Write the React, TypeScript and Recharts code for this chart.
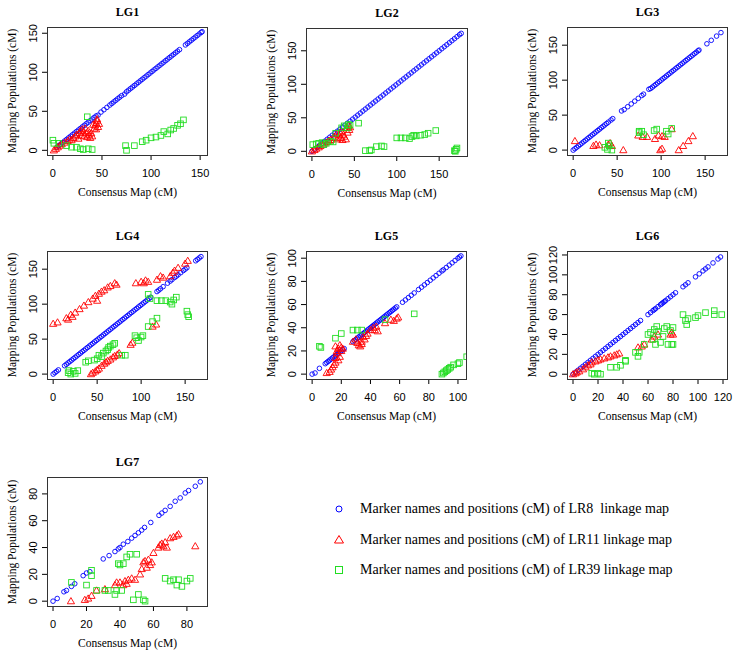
import React from "react";
import { ScatterChart, Scatter, XAxis, YAxis } from "recharts";

type Pt = [number, number];

// LG1
const lg1Blue: Pt[] = [
  [4, 4], [6, 6], [8, 8], [10, 10], [12, 12], [14, 14], [16, 16], [18, 18], [20, 20], [22, 22],
  [24, 24], [26, 26], [28, 28], [30, 30], [32, 32], [34, 34], [36, 36], [38, 38], [40, 40], [42, 42],
  [44, 44], [46, 45], [49, 49], [52, 52], [55, 55], [58, 58], [60, 60], [62, 62], [64, 64], [66, 66],
  [68, 68], [70, 70], [73, 72], [75, 75], [77, 77], [79, 79], [81, 81], [83, 83], [85, 85], [87, 87],
  [89, 89], [91, 91], [93, 93], [95, 95], [97, 97], [99, 99], [101, 101], [103, 103], [105, 105], [107, 107],
  [109, 109], [111, 111], [113, 113], [115, 115], [117, 117], [119, 119], [121, 121], [123, 123], [125, 125], [127, 127],
  [129, 129], [135, 135], [137, 137], [139, 139], [141, 141], [143, 143], [145, 145], [147, 147], [149, 149], [151, 151], [152, 152],
];
const lg1Red: Pt[] = [
  [1, 0], [3, 2], [5, 4], [7, 6], [9, 8], [12, 10], [15, 12], [17, 14], [19, 13], [21, 16],
  [23, 18], [24, 20], [26, 15], [27, 22], [28, 25], [29, 19], [30, 27], [31, 23], [32, 18], [33, 28],
  [34, 22], [35, 17], [36, 25], [37, 20], [38, 16], [39, 22], [40, 18], [42, 28], [43, 32], [44, 35],
  [45, 38], [46, 30], [47, 34], [45, 40], [44, 27], [41, 33],
];
const lg1Green: Pt[] = [
  [0, 13], [1, 9], [6, 9], [14, 6], [19, 4], [24, 4], [28, 2], [31, 1], [35, 43], [36, 2],
  [40, 1], [74, 6], [75, 0], [83, 6], [91, 11], [95, 13], [100, 16], [105, 17], [110, 19], [113, 24],
  [117, 21], [120, 26], [123, 28], [127, 32], [130, 34], [133, 39],
];

// LG2
const lg2Blue: Pt[] = [
  [0, 0], [3, 3], [6, 6], [9, 9], [12, 12], [15, 15], [18, 18], [21, 21], [24, 24], [27, 27],
  [30, 30], [33, 33], [36, 36], [39, 39], [42, 42], [45, 45], [48, 48], [51, 51], [54, 54], [57, 57],
  [60, 60], [63, 63], [66, 66], [69, 69], [72, 72], [75, 75], [78, 78], [81, 81], [84, 84], [87, 87],
  [90, 90], [93, 93], [96, 96], [99, 99], [102, 102], [105, 105], [108, 108], [111, 111], [114, 114], [117, 117],
  [120, 120], [123, 123], [126, 126], [129, 129], [132, 132], [135, 135], [138, 138], [141, 141], [144, 144], [147, 147],
  [150, 150], [153, 153], [156, 156], [159, 159], [162, 162], [165, 165], [168, 168], [171, 171], [174, 174], [176, 176],
];
const lg2Red: Pt[] = [
  [0, 0], [3, 2], [5, 4], [8, 6], [10, 8], [13, 10], [15, 12], [18, 14], [20, 16], [22, 17],
  [25, 20], [27, 22], [29, 26], [30, 18], [32, 24], [33, 28], [34, 20], [35, 30], [36, 17], [37, 25],
  [38, 22], [40, 18], [41, 35], [42, 28], [43, 38], [44, 32], [45, 36],
];
const lg2Green: Pt[] = [
  [1, 10], [5, 11], [8, 12], [12, 13], [14, 10], [17, 12], [22, 15], [25, 14], [28, 27], [35, 35],
  [38, 38], [42, 35], [43, 40], [45, 39], [55, 42], [63, 1], [68, 1], [70, 2], [76, 7], [82, 8],
  [85, 7], [100, 20], [105, 20], [110, 20], [115, 19], [118, 22], [120, 24], [123, 23], [128, 24], [133, 25],
  [137, 27], [146, 31], [168, 1], [170, 3], [171, 5], [169, 0],
];

// LG3
const lg3Blue: Pt[] = [
  [0, 0], [2, 2], [4, 4], [6, 6], [8, 8], [10, 10], [12, 12], [14, 14], [16, 16], [18, 18],
  [20, 20], [22, 22], [24, 24], [26, 26], [28, 28], [30, 30], [32, 32], [34, 34], [36, 36], [38, 38],
  [40, 40], [43, 43], [45, 45], [55, 56], [58, 58], [62, 62], [66, 66], [70, 70], [74, 74], [78, 78],
  [80, 80], [86, 87], [88, 88], [90, 90], [92, 92], [94, 94], [96, 96], [98, 98], [100, 100], [102, 102],
  [104, 104], [106, 106], [108, 108], [110, 110], [112, 112], [114, 114], [116, 116], [118, 118], [120, 120], [122, 122],
  [124, 124], [126, 126], [128, 128], [130, 130], [132, 132], [134, 134], [136, 136], [138, 138], [140, 140], [142, 142],
  [143, 143], [152, 152], [157, 157], [163, 163], [168, 168],
];
const lg3Red: Pt[] = [
  [2, 13], [23, 6], [26, 8], [30, 7], [40, 8], [42, 10], [44, 6], [57, 0], [74, 21], [79, 19],
  [84, 19], [93, 16], [97, 21], [101, 20], [104, 19], [99, 0], [101, 2], [112, 30], [120, 0], [125, 6],
  [131, 13], [136, 20],
];
const lg3Green: Pt[] = [
  [36, 4], [39, 1], [40, 10], [44, 0], [41, 6], [75, 25], [78, 27], [92, 28], [95, 30], [106, 27],
  [108, 23], [112, 31], [75, 27], [80, 22],
];

// LG4
const lg4Blue: Pt[] = [
  [0, 0], [2, 2], [4, 4], [6, 6], [13, 12], [15, 14], [17, 16], [19, 18], [21, 20], [23, 22],
  [25, 24], [27, 26], [29, 28], [31, 30], [33, 32], [35, 34], [37, 36], [39, 38], [41, 40], [43, 42],
  [45, 44], [47, 46], [49, 48], [51, 50], [53, 52], [55, 54], [57, 56], [59, 58], [61, 60], [63, 62],
  [65, 64], [67, 66], [69, 68], [71, 70], [73, 72], [75, 74], [77, 76], [79, 78], [81, 80], [83, 82],
  [85, 84], [87, 86], [89, 88], [91, 90], [93, 92], [95, 94], [97, 96], [99, 98], [101, 100], [103, 102],
  [105, 104], [107, 106], [109, 108], [111, 110], [118, 118], [120, 120], [122, 122], [125, 125], [130, 130], [133, 133],
  [135, 135], [138, 138], [140, 140], [142, 142], [145, 145], [148, 148], [150, 150], [152, 152], [162, 162], [164, 164],
  [166, 166], [168, 168],
];
const lg4Red: Pt[] = [
  [0, 72], [5, 74], [15, 80], [17, 78], [20, 85], [22, 82], [25, 88], [30, 93], [35, 98], [40, 103],
  [45, 108], [48, 112], [50, 105], [52, 115], [55, 118], [58, 120], [62, 124], [65, 126], [70, 130], [72, 128],
  [94, 130], [100, 132], [103, 130], [105, 134], [108, 132], [118, 135], [122, 140], [125, 138], [133, 140], [136, 145],
  [138, 148], [142, 152], [150, 158], [153, 162],
  [43, 0], [45, 2], [48, 4], [50, 6], [52, 8], [55, 12], [58, 15], [60, 17], [62, 19], [65, 21],
  [68, 24], [70, 26], [73, 28], [75, 30], [88, 42], [90, 45], [113, 68], [117, 71],
];
const lg4Green: Pt[] = [
  [17, 2], [18, 5], [20, 0], [23, 4], [25, 1], [28, 5], [37, 17], [40, 19], [47, 20], [50, 22],
  [52, 27], [55, 25], [57, 30], [60, 33], [62, 35], [63, 38], [65, 40], [68, 42], [70, 44], [78, 27],
  [82, 27], [93, 55], [95, 52], [97, 48], [100, 53], [102, 55], [108, 68], [113, 75], [118, 80], [108, 114],
  [110, 108], [118, 105], [123, 105], [128, 105], [133, 103], [135, 100], [137, 106], [140, 110], [152, 90], [153, 85],
  [154, 82],
];

// LG5
const lg5Blue: Pt[] = [
  [0, 0], [2, 1], [5, 5], [9, 9], [10, 10], [11, 11], [12, 12], [13, 13], [14, 14], [15, 15],
  [16, 16], [17, 17], [18, 18], [19, 19], [20, 20], [21, 21], [22, 22], [28, 28], [29, 29], [30, 30],
  [31, 31], [32, 32], [33, 33], [34, 34], [35, 35], [36, 36], [37, 37], [38, 38], [39, 39], [40, 40],
  [41, 41], [42, 42], [43, 43], [44, 44], [45, 45], [46, 46], [47, 47], [48, 48], [49, 49], [50, 50],
  [51, 51], [52, 52], [53, 53], [54, 54], [55, 55], [56, 56], [57, 57], [58, 58], [62, 62], [64, 64],
  [66, 66], [68, 68], [70, 70], [73, 73], [75, 75], [77, 77], [79, 79], [81, 81], [83, 83], [85, 85],
  [87, 87], [89, 89], [90, 90], [92, 92], [94, 94], [96, 96], [98, 98], [100, 100], [101, 101], [102, 102],
];
const lg5Red: Pt[] = [
  [10, 1], [12, 2], [13, 4], [14, 6], [15, 8], [16, 10], [16, 14], [17, 18], [17, 20], [18, 22],
  [16, 24], [19, 25], [20, 20], [20, 23], [21, 22], [18, 12], [19, 15], [28, 28], [30, 30], [31, 27],
  [32, 25], [33, 24], [34, 28], [35, 32], [36, 30], [37, 33], [34, 26], [38, 35], [40, 38], [42, 40],
  [43, 38], [45, 37], [44, 41], [50, 44], [54, 47], [56, 46], [58, 48], [59, 49],
];
const lg5Green: Pt[] = [
  [5, 24], [6, 23], [16, 31], [20, 35], [28, 38], [31, 38], [34, 38], [50, 47], [70, 52], [89, 0],
  [90, 1], [91, 2], [92, 3], [93, 4], [94, 5], [95, 6], [97, 8], [100, 9], [101, 10], [106, 15],
];

// LG6
const lg6Blue: Pt[] = [
  [0, 0], [2, 2], [4, 4], [6, 6], [8, 8], [10, 10], [12, 12], [14, 14], [16, 16], [18, 18],
  [20, 20], [22, 22], [24, 24], [26, 26], [28, 28], [30, 30], [32, 32], [34, 34], [36, 36], [38, 38],
  [40, 40], [42, 42], [44, 44], [46, 46], [48, 48], [50, 50], [52, 52], [54, 54], [60, 60], [62, 62],
  [64, 64], [65, 65], [66, 66], [68, 68], [70, 70], [71, 71], [72, 72], [73, 73], [74, 74], [76, 76],
  [78, 78], [80, 80], [82, 82], [88, 88], [90, 90], [92, 92], [98, 98], [101, 101], [104, 104], [106, 106],
  [108, 108], [112, 112], [116, 116], [118, 118],
];
const lg6Red: Pt[] = [
  [0, 0], [2, 1], [3, 2], [5, 3], [8, 5], [10, 7], [12, 9], [14, 10], [15, 12], [18, 13],
  [20, 14], [22, 15], [25, 16], [28, 17], [30, 18], [33, 19], [35, 20], [37, 21], [52, 27], [55, 28],
  [57, 30], [63, 35], [65, 38], [68, 40], [78, 40], [80, 40], [79, 42],
];
const lg6Green: Pt[] = [
  [15, 1], [17, 0], [20, 1], [22, 0], [30, 7], [35, 7], [38, 9], [42, 14], [42, 13], [50, 22],
  [52, 18], [53, 22], [57, 30], [60, 40], [62, 42], [64, 35], [65, 45], [66, 30], [67, 48], [68, 43],
  [70, 32], [72, 38], [73, 46], [75, 48], [76, 30], [78, 44], [79, 30], [80, 47], [80, 30], [88, 60],
  [90, 54], [91, 50], [92, 56], [98, 57], [100, 59], [106, 62], [113, 64], [113, 60], [119, 60],
];

// LG7
const lg7Blue: Pt[] = [
  [0, 0], [2.5, 2], [6.5, 7], [8, 8], [11, 11], [13, 13], [18, 19], [20, 21], [22, 22], [30, 31.5],
  [33.5, 34], [37, 37], [39, 39], [40, 40], [42, 42.5], [44.7, 44.5], [47, 47], [49, 49], [51, 51], [53, 53],
  [54.7, 55], [58.4, 58.7], [63.3, 64], [65, 65.7], [67, 67.7], [70, 70.7], [73, 74.5], [76, 77], [79, 80.7], [81, 82.5],
  [85, 85.7], [88, 89],
];
const lg7Red: Pt[] = [
  [10.7, 0], [19, 1], [21, 2], [23, 4], [26, 8], [31, 9], [37, 12], [38, 14], [40, 14], [42, 12],
  [43, 15], [44, 13], [45, 16], [47, 17], [49, 16], [52, 20], [53, 24], [54, 29], [55, 30], [56, 25],
  [57, 31], [58, 27], [59, 29], [60, 36], [63, 40], [64, 42], [65, 43], [66, 41], [67, 44], [68, 40],
  [70, 47], [72, 48], [74, 49], [75, 50], [85, 41],
];
const lg7Green: Pt[] = [
  [11, 14], [20, 12], [23, 19], [23, 23], [26, 8], [31, 8], [33, 8], [37, 5], [38, 8], [39, 28],
  [40, 27], [41, 8], [42, 28], [44, 33], [46, 35], [48, 1], [50, 35], [51, 5], [54, 1], [55, 0],
  [67, 17], [70, 15], [72, 16], [74, 12], [75, 16], [77, 11], [80, 15], [82, 17],
];

const legendLabels = [
  "Marker names and positions (cM) of LR8  linkage map",
  "Marker names and positions (cM) of LR11 linkage map",
  "Marker names and positions (cM) of LR39 linkage map",
];

const BLUE = "#0000ff";
const RED = "#ff0000";
const GREEN = "#22dd22";
const SERIF = '"Liberation Serif", "Times New Roman", serif';
const SANS = '"Liberation Sans", Arial, sans-serif';

const toObj = (pts: Pt[]) => pts.map(([x, y]) => ({ x, y }));

const panels = [
  { title: "LG1", box: [47, 27, 208, 155], domain: [-6, 158], ticks: [0, 50, 100, 150], blue: lg1Blue, red: lg1Red, green: lg1Green },
  { title: "LG2", box: [306, 28, 468, 156], domain: [-7, 184], ticks: [0, 50, 100, 150], blue: lg2Blue, red: lg2Red, green: lg2Green },
  { title: "LG3", box: [567, 27, 728, 155], domain: [-7, 176], ticks: [0, 50, 100, 150], blue: lg3Blue, red: lg3Red, green: lg3Green },
  { title: "LG4", box: [47, 251, 208, 379], domain: [-7, 176], ticks: [0, 50, 100, 150], blue: lg4Blue, red: lg4Red, green: lg4Green },
  { title: "LG5", box: [306, 251, 467, 379], domain: [-4.2, 106.2], ticks: [0, 20, 40, 60, 80, 100], blue: lg5Blue, red: lg5Red, green: lg5Green },
  { title: "LG6", box: [567, 251, 728, 379], domain: [-4.8, 124], ticks: [0, 20, 40, 60, 80, 100, 120], blue: lg6Blue, red: lg6Red, green: lg6Green },
  { title: "LG7", box: [47, 477, 208, 606], domain: [-3.6, 92.6], ticks: [0, 20, 40, 60, 80], blue: lg7Blue, red: lg7Red, green: lg7Green },
];

const Circle = (p: any) => (
  <circle cx={p.cx} cy={p.cy} r={2.3} fill="none" stroke={BLUE} strokeWidth={0.9} />
);
const Triangle = (p: any) => (
  <polygon
    points={`${p.cx},${p.cy - 3.6} ${p.cx - 3.6},${p.cy + 2.6} ${p.cx + 3.6},${p.cy + 2.6}`}
    fill="none"
    stroke={RED}
    strokeWidth={0.9}
  />
);
const Square = (p: any) => (
  <rect x={p.cx - 2.8} y={p.cy - 2.8} width={5.6} height={5.6} fill="none" stroke={GREEN} strokeWidth={0.9} />
);

function Panel({ cfg }: { cfg: (typeof panels)[number] }) {
  const [l, t, r, b] = cfg.box;
  const w = r - l;
  const h = b - t;
  return (
    <>
      <div style={{ position: "absolute", left: l - 50, top: t - 5 }}>
        <ScatterChart width={w + 60} height={h + 55} margin={{ top: 5, right: 10, bottom: 0, left: 0 }}>
          <XAxis
            type="number"
            dataKey="x"
            domain={cfg.domain}
            ticks={cfg.ticks}
            interval={0}
            allowDataOverflow
            height={50}
            axisLine={false}
            tickSize={5}
            tickMargin={9}
            tickLine={{ stroke: "#000" }}
            tick={{ fontSize: 11, fill: "#000", fontFamily: SANS }}
          />
          {/* R draws y tick labels parallel to the axis */}
          <YAxis
            type="number"
            dataKey="y"
            domain={cfg.domain}
            ticks={cfg.ticks}
            interval={0}
            allowDataOverflow
            width={50}
            axisLine={false}
            tickSize={5}
            tickMargin={9}
            tickLine={{ stroke: "#000" }}
            angle={-90}
            tick={{ fontSize: 11, fill: "#000", fontFamily: SANS, angle: -90, textAnchor: "middle", verticalAnchor: "middle" }}
          />
          <Scatter data={toObj(cfg.blue)} shape={Circle} isAnimationActive={false} />
          <Scatter data={toObj(cfg.red)} shape={Triangle} isAnimationActive={false} />
          <Scatter data={toObj(cfg.green)} shape={Square} isAnimationActive={false} />
        </ScatterChart>
      </div>
      <div
        style={{
          position: "absolute",
          left: l,
          top: t,
          width: w,
          height: h + 1,
          border: "1px solid #333",
          boxSizing: "border-box",
          pointerEvents: "none",
        }}
      />
      <div
        style={{
          position: "absolute",
          left: l,
          width: w,
          top: t - 22,
          textAlign: "center",
          fontFamily: SERIF,
          fontWeight: "bold",
          fontSize: 12,
        }}
      >
        {cfg.title}
      </div>
      <div
        style={{
          position: "absolute",
          left: l,
          width: w,
          top: b + 29,
          height: 16,
          lineHeight: "16px",
          textAlign: "center",
          fontFamily: SERIF,
          fontSize: 11.5,
        }}
      >
        Consensus Map (cM)
      </div>
      <div
        style={{
          position: "absolute",
          left: l - 35 - 80,
          top: t + h / 2 - 8,
          width: 160,
          height: 16,
          lineHeight: "16px",
          textAlign: "center",
          fontFamily: SERIF,
          fontSize: 11.5,
          transform: "rotate(-90deg)",
        }}
      >
        Mapping Populations (cM)
      </div>
    </>
  );
}

const legendShapes = [
  <circle cx={8} cy={8} r={3} fill="none" stroke={BLUE} strokeWidth={1} />,
  <polygon points="8,3.5 3.5,11 12.5,11" fill="none" stroke={RED} strokeWidth={1} />,
  <rect x={4.5} y={4.5} width={7} height={7} fill="none" stroke={GREEN} strokeWidth={1} />,
];

export default function App() {
  return (
    <div style={{ position: "absolute", left: 0, top: 0, width: 737, height: 653, background: "#fff", overflow: "hidden" }}>
      {panels.map((p) => (
        <Panel key={p.title} cfg={p} />
      ))}
      {legendLabels.map((label, i) => (
        <div key={label} style={{ position: "absolute", left: 331, top: 499 + i * 30.5, height: 20, display: "flex", alignItems: "center" }}>
          <svg width={16} height={16} style={{ marginRight: 13 }}>
            {legendShapes[i]}
          </svg>
          <span style={{ fontFamily: SERIF, fontSize: 14, color: "#000", whiteSpace: "pre" }}>{label}</span>
        </div>
      ))}
    </div>
  );
}
